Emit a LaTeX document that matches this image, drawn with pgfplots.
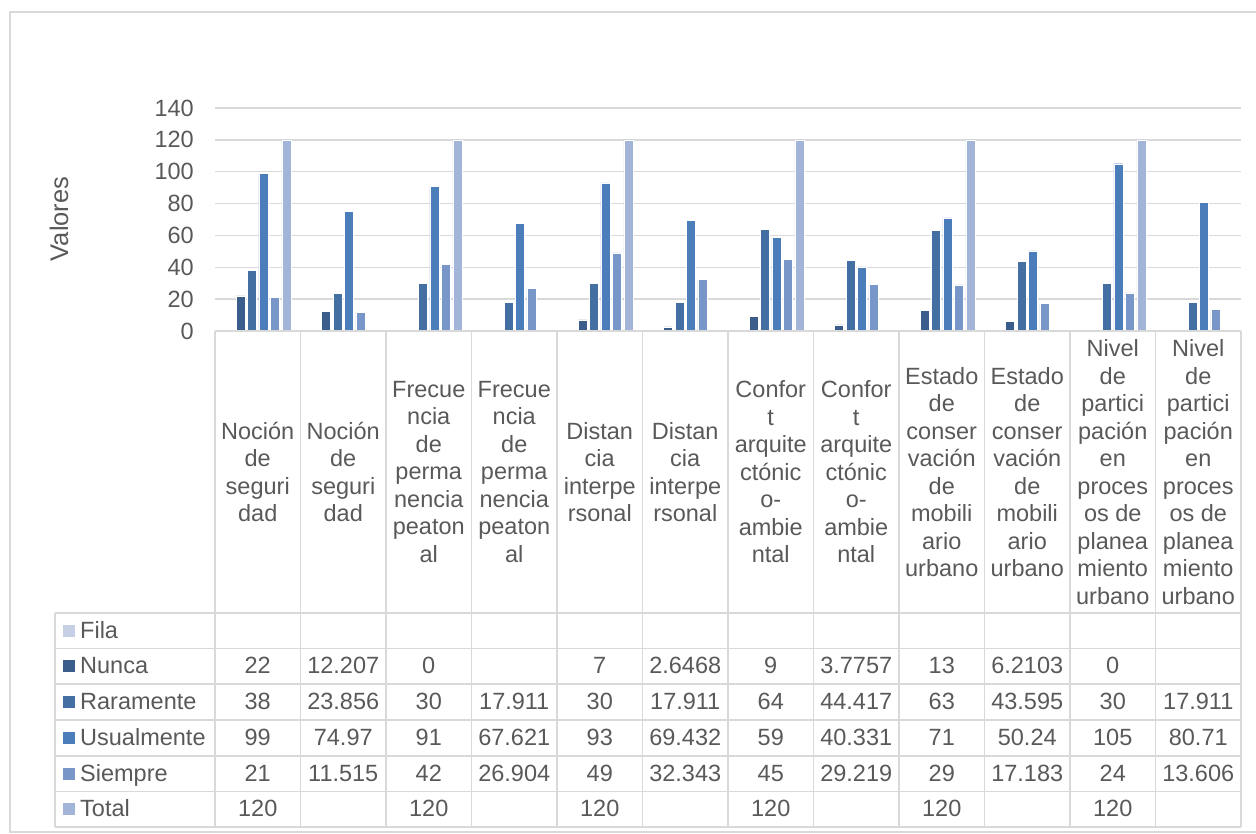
\documentclass[border=0pt]{standalone}
\usepackage{fontspec}
\setmainfont{Liberation Sans}
\usepackage{pgfplots}
\pgfplotsset{compat=1.18}
\definecolor{txt}{HTML}{595959}
\definecolor{gridc}{HTML}{D9D9D9}
\definecolor{cFila}{HTML}{C6D0E4}
\definecolor{cNunca}{HTML}{3A5D8B}
\definecolor{cRara}{HTML}{436FA3}
\definecolor{cUsu}{HTML}{4A7DBA}
\definecolor{cSiem}{HTML}{7896C8}
\definecolor{cTot}{HTML}{A2B5D8}
\begin{document}
\begin{tikzpicture}[x=1pt,y=1pt,font=\fontsize{23.5}{27.5}\selectfont]
\useasboundingbox (0,0) rectangle (1256,-834);
\draw[gridc, line width=1.3pt] (10,-12) rectangle (1262,-832);
\coordinate (AX) at (215,-331);
\begin{axis}[at={(AX)}, anchor=south west, scale only axis,
  width=1026pt, height=223pt,
  xmin=-0.5, xmax=11.5, ymin=0, ymax=140,
  ytick={0,20,...,140}, xtick=\empty,
  ymajorgrids, grid style={gridc, line width=1.3pt},
  axis line style={draw=none}, major tick length=0pt,
  /pgf/number format/assume math mode=true,
  yticklabel style={font=\fontsize{23.5}{27.5}\selectfont, text=txt, anchor=east, inner sep=0pt, xshift=-21pt},
  ybar, bar width=9pt, clip=false]
\addplot[fill=cNunca, draw=white, line width=0.4pt, bar shift=-17.1pt] coordinates {(0,22)(1,12.207)(2,0)(4,7)(5,2.6468)(6,9)(7,3.7757)(8,13)(9,6.2103)(10,0)};
\addplot[fill=cRara, draw=white, line width=0.4pt, bar shift=-5.7pt] coordinates {(0,38)(1,23.856)(2,30)(3,17.911)(4,30)(5,17.911)(6,64)(7,44.417)(8,63)(9,43.595)(10,30)(11,17.911)};
\addplot[fill=cUsu, draw=white, line width=0.4pt, bar shift=5.7pt] coordinates {(0,99)(1,74.97)(2,91)(3,67.621)(4,93)(5,69.432)(6,59)(7,40.331)(8,71)(9,50.24)(10,105)(11,80.71)};
\addplot[fill=cSiem, draw=white, line width=0.4pt, bar shift=17.1pt] coordinates {(0,21)(1,11.515)(2,42)(3,26.904)(4,49)(5,32.343)(6,45)(7,29.219)(8,29)(9,17.183)(10,24)(11,13.606)};
\addplot[fill=cTot, draw=white, line width=0.4pt, bar shift=28.5pt] coordinates {(0,120)(2,120)(4,120)(6,120)(8,120)(10,120)};
\end{axis}
% y label
\node[rotate=90, text=txt, font=\fontsize{25.5}{30}\selectfont] at (59,-219) {Valores};
% table grid
\begin{scope}[gridc, line width=1.3pt]
\draw (215,-331) -- (1241,-331);
\foreach \i in {0,...,12} \draw ({215+85.5*\i},-331) -- ({215+85.5*\i},-827);
\draw (55,-613) -- (55,-827);
\foreach \y in {613,648.5,684,720,756,791.5,827} \draw (55,-\y) -- (1241,-\y);
\end{scope}
% header
\foreach \t [count=\i from 0] in {
 {Noción\\de\\seguri\\dad},{Noción\\de\\seguri\\dad},
 {Frecue\\ncia\\de\\perma\\nencia\\peaton\\al},{Frecue\\ncia\\de\\perma\\nencia\\peaton\\al},
 {Distan\\cia\\interpe\\rsonal},{Distan\\cia\\interpe\\rsonal},
 {Confor\\t\\arquite\\ctónic\\o-\\ambie\\ntal},{Confor\\t\\arquite\\ctónic\\o-\\ambie\\ntal},
 {Estado\\de\\conser\\vación\\de\\mobili\\ario\\urbano},{Estado\\de\\conser\\vación\\de\\mobili\\ario\\urbano},
 {Nivel\\de\\partici\\pación\\en\\proces\\os de\\planea\\miento\\urbano},{Nivel\\de\\partici\\pación\\en\\proces\\os de\\planea\\miento\\urbano}}
 \node[text=txt, align=center, inner sep=0pt] at ({257.75+85.5*\i},-472) {\t};
% row labels
\foreach \n/\c/\y in {Fila/cFila/630.75, Nunca/cNunca/666.25, Raramente/cRara/702, Usualmente/cUsu/738, Siempre/cSiem/773.75, Total/cTot/809.25}{
 \fill[\c] (63,-\y+6) rectangle (75,-\y-6);
 \node[text=txt, anchor=base west, inner sep=0pt] at (80,-\y-7.5) {\n};
}
% values
\foreach \v [count=\i from 0] in {22,12.207,0,{},7,2.6468,9,3.7757,13,6.2103,0,{}}
 \node[text=txt, anchor=base, inner sep=0pt] at ({257.75+85.5*\i},-666.25-7.5) {\v};
\foreach \v [count=\i from 0] in {38,23.856,30,17.911,30,17.911,64,44.417,63,43.595,30,17.911}
 \node[text=txt, anchor=base, inner sep=0pt] at ({257.75+85.5*\i},-702-7.5) {\v};
\foreach \v [count=\i from 0] in {99,74.97,91,67.621,93,69.432,59,40.331,71,50.24,105,80.71}
 \node[text=txt, anchor=base, inner sep=0pt] at ({257.75+85.5*\i},-738-7.5) {\v};
\foreach \v [count=\i from 0] in {21,11.515,42,26.904,49,32.343,45,29.219,29,17.183,24,13.606}
 \node[text=txt, anchor=base, inner sep=0pt] at ({257.75+85.5*\i},-773.75-7.5) {\v};
\foreach \v [count=\i from 0] in {120,{},120,{},120,{},120,{},120,{},120,{}}
 \node[text=txt, anchor=base, inner sep=0pt] at ({257.75+85.5*\i},-809.25-7.5) {\v};
\end{tikzpicture}
\end{document}
